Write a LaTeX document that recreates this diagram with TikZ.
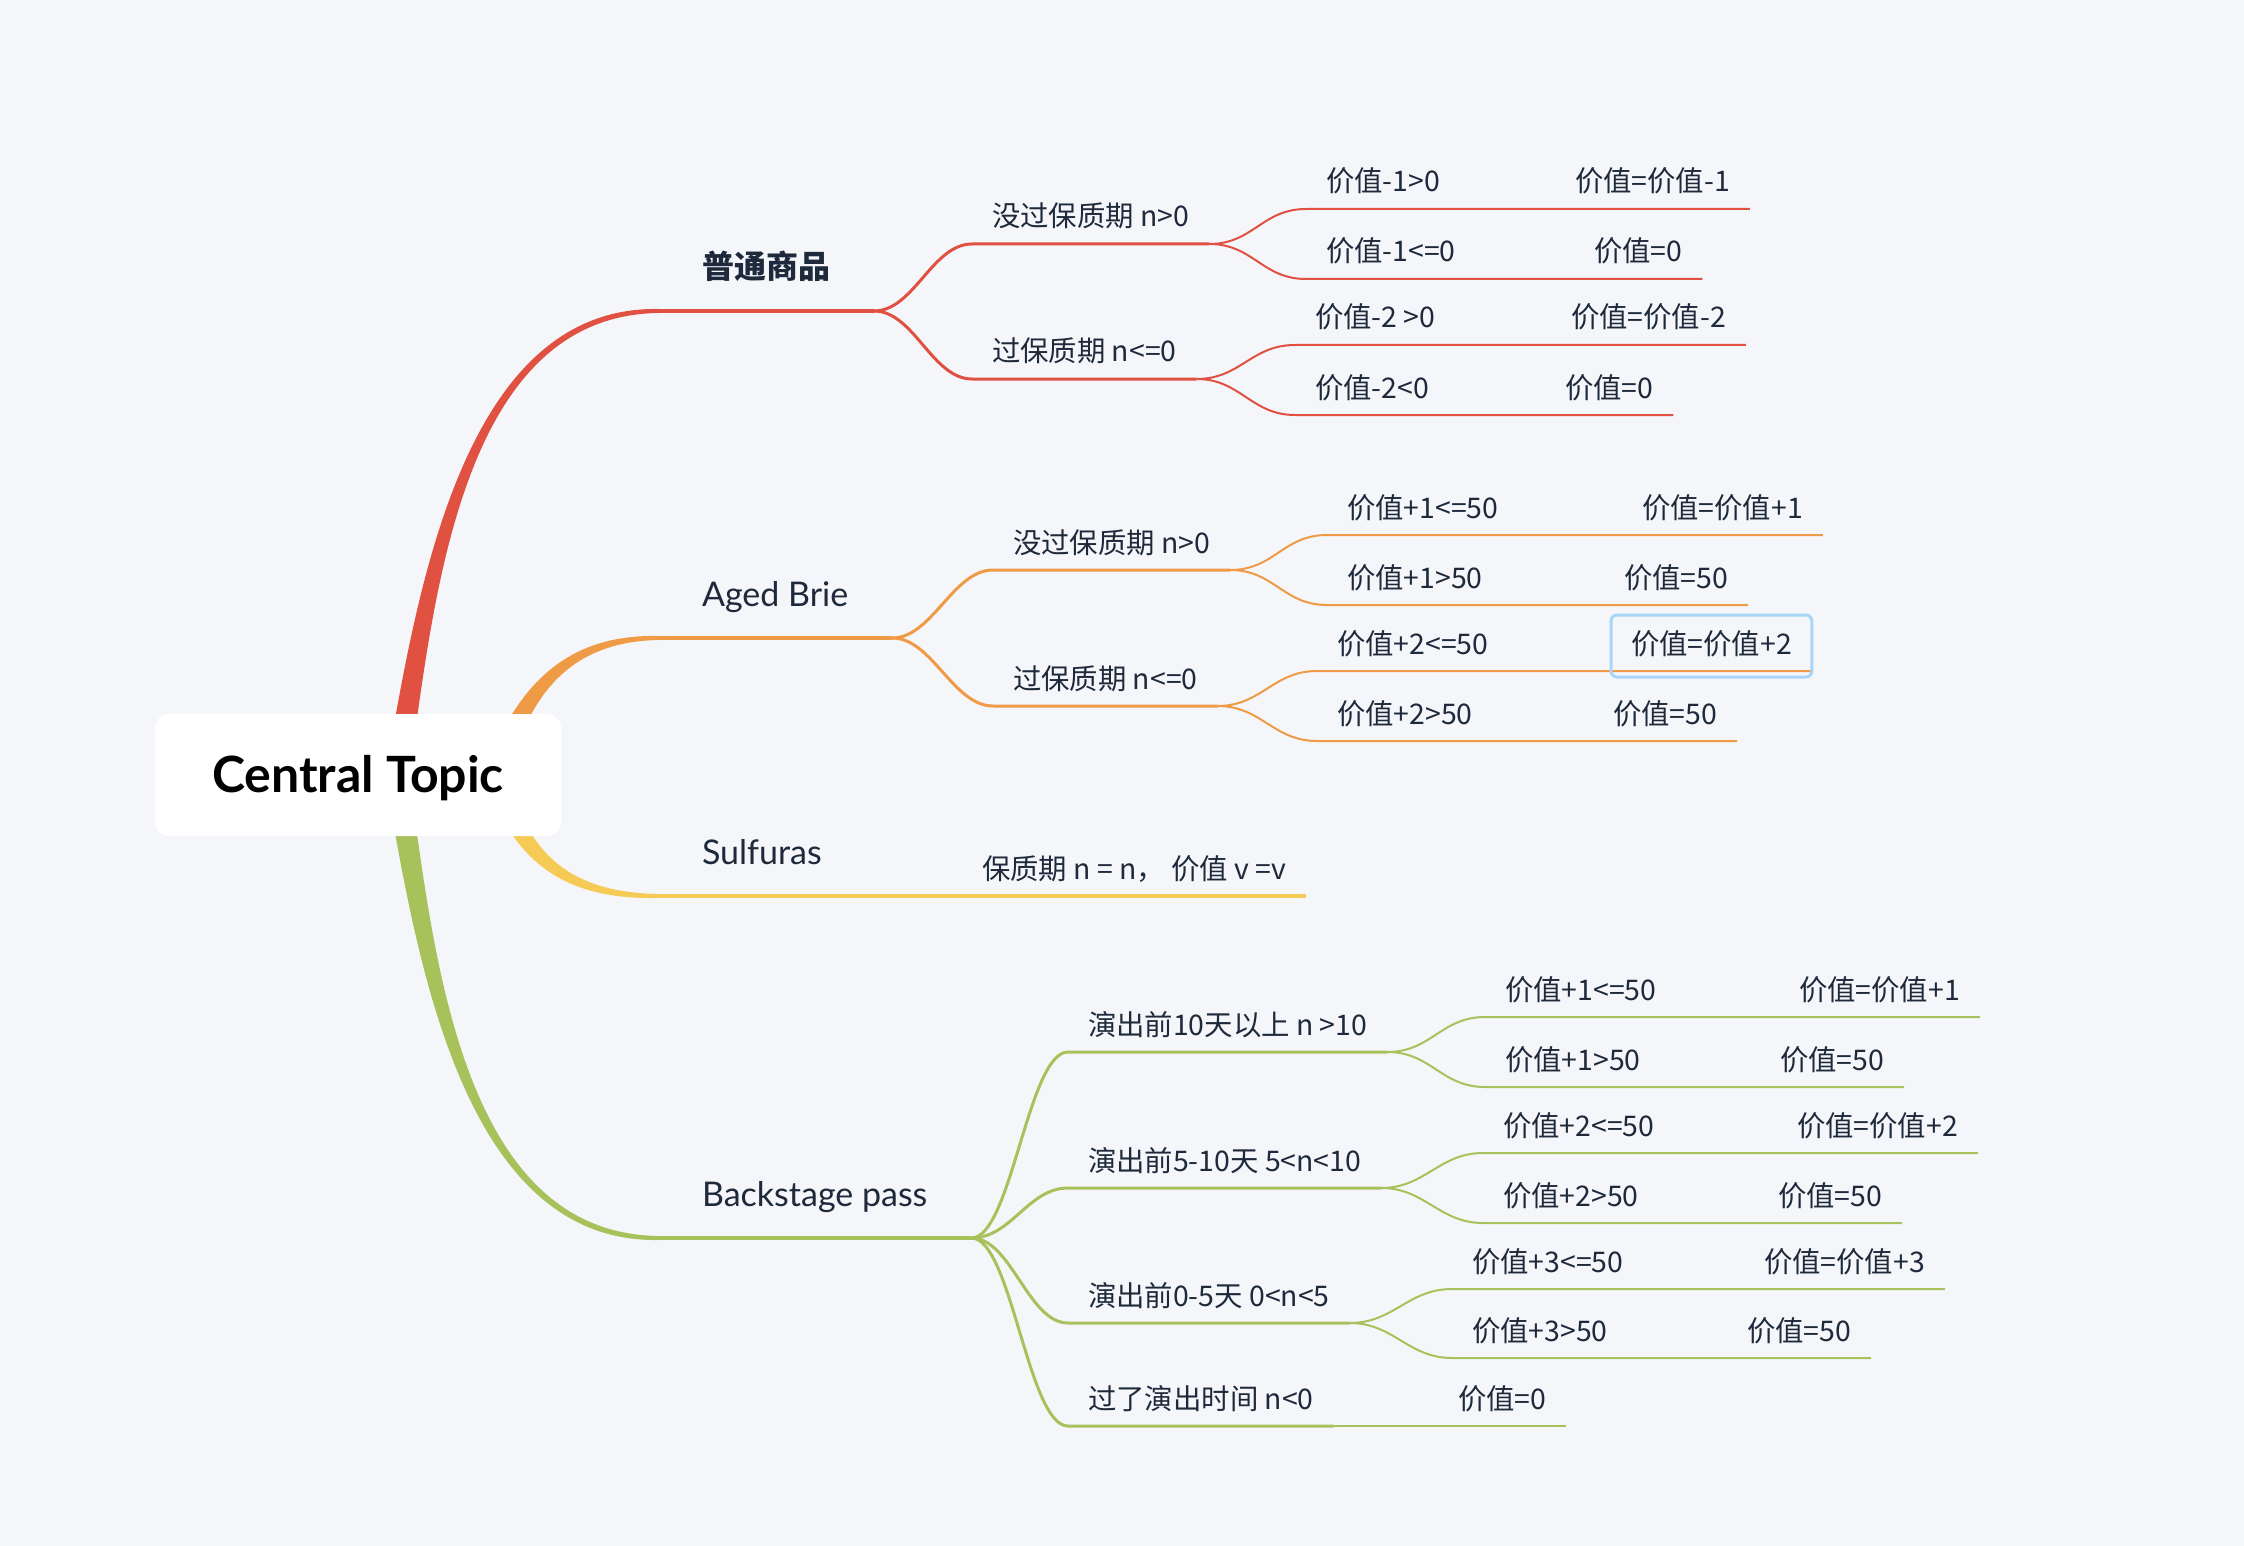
\documentclass[tikz,border=0pt]{standalone}
\usepackage{fontspec}
\setmainfont{Noto Sans CJK SC}
\newfontfamily\latofont{Lato}
\usepackage{xcolor}
\definecolor{bgcol}{HTML}{F5F6FA}
\definecolor{inkcol}{HTML}{1E2A3B}
\definecolor{redbr}{HTML}{E05141}
\definecolor{orangebr}{HTML}{EF9A45}
\definecolor{yellowbr}{HTML}{F6CB55}
\definecolor{greenbr}{HTML}{A7C25A}
\definecolor{selcol}{HTML}{A8D5F8}
\tikzset{
	central/.style={fill=white, rounded corners=7pt, minimum width=203pt, minimum height=61pt,
		text height=17.5pt, text depth=0pt, font=\latofont\bfseries\fontsize{25pt}{28pt}\selectfont, text=black},
	main topic/.style={anchor=south west, inner xsep=22pt, inner ysep=0pt, outer sep=0pt,
		text height=12pt, text depth=16pt, font=\latofont\fontsize{17pt}{19pt}\selectfont, text=inkcol},
	sub topic/.style={anchor=south west, inner xsep=10pt, inner ysep=0pt, outer sep=0pt,
		text height=12pt, text depth=8.5pt, font=\fontsize{14.2pt}{16pt}\selectfont, text=inkcol},
	main line/.style={line width=2pt},
	sub line/.style={line width=1.5pt},
	leaf line/.style={line width=1pt},
	selbox/.style={draw=selcol, line width=1.5pt, rounded corners=3pt}
}
\begin{document}
\begin{tikzpicture}[x=0.5pt, y=-0.5pt]
	\fill[bgcol] (0,0) rectangle (2244,1546);
	
	% main topics
	\node[main topic] (pu) at (658, 311) {\rmfamily\bfseries\fontsize{16pt}{18pt}\selectfont 普通商品};
	\node[main topic] (ab) at (658, 638) {Aged Brie};
	\node[main topic] (su) at (658, 896) {Sulfuras};
	\node[main topic] (bp) at (658, 1238) {Backstage pass};
	
	% 普通商品
	\node[sub topic] (pu1) at (972, 244) {没过保质期 n>0};
	\node[sub topic] (pu2) at (972, 379) {过保质期 n<=0};
	\node[sub topic] (pu1a) at (1306, 209) {价值-1>0};
	\node[sub topic] (pu1b) at (1555, 209) {价值=价值-1};
	\node[sub topic] (pu1c) at (1306, 279) {价值-1<=0};
	\node[sub topic] (pu1d) at (1574, 279) {价值=0};
	\node[sub topic] (pu2a) at (1295, 345) {价值-2 >0};
	\node[sub topic] (pu2b) at (1551, 345) {价值=价值-2};
	\node[sub topic] (pu2c) at (1295, 415) {价值-2<0};
	\node[sub topic] (pu2d) at (1545, 415) {价值=0};
	
	% Aged Brie
	\node[sub topic] (ab1) at (993, 570) {没过保质期 n>0};
	\node[sub topic] (ab2) at (993, 706) {过保质期 n<=0};
	\node[sub topic] (ab1a) at (1327, 535) {价值+1<=50};
	\node[sub topic] (ab1b) at (1622, 535) {价值=价值+1};
	\node[sub topic] (ab1c) at (1327, 605) {价值+1>50};
	\node[sub topic] (ab1d) at (1604, 605) {价值=50};
	\node[sub topic] (ab2a) at (1317, 671) {价值+2<=50};
	\node[sub topic] (ab2b) at (1611, 671) {价值=价值+2};
	\node[sub topic] (ab2c) at (1317, 741) {价值+2>50};
	\node[sub topic] (ab2d) at (1593, 741) {价值=50};
	
	% Sulfuras
	\node[sub topic] (su1) at (962, 896) {保质期 n = n， 价值 v =v};
	
	% Backstage pass
	\node[sub topic] (bp1) at (1068, 1052) {演出前10天以上 n >10};
	\node[sub topic] (bp2) at (1068, 1188) {演出前5-10天 5<n<10};
	\node[sub topic] (bp3) at (1068, 1323) {演出前0-5天 0<n<5};
	\node[sub topic] (bp4) at (1068, 1426) {过了演出时间 n<0};
	\node[sub topic] (bp1a) at (1485, 1017) {价值+1<=50};
	\node[sub topic] (bp1b) at (1779, 1017) {价值=价值+1};
	\node[sub topic] (bp1c) at (1485, 1087) {价值+1>50};
	\node[sub topic] (bp1d) at (1760, 1087) {价值=50};
	\node[sub topic] (bp2a) at (1483, 1153) {价值+2<=50};
	\node[sub topic] (bp2b) at (1777, 1153) {价值=价值+2};
	\node[sub topic] (bp2c) at (1483, 1223) {价值+2>50};
	\node[sub topic] (bp2d) at (1758, 1223) {价值=50};
	\node[sub topic] (bp3a) at (1452, 1289) {价值+3<=50};
	\node[sub topic] (bp3b) at (1744, 1289) {价值=价值+3};
	\node[sub topic] (bp3c) at (1452, 1358) {价值+3>50};
	\node[sub topic] (bp3d) at (1727, 1358) {价值=50};
	\node[sub topic] (bp4a) at (1438, 1426) {价值=0};
	
	% branch roots under the central topic
	\coordinate (rs1) at (385, 776);
	\coordinate (rs2) at (409, 776);
	\coordinate (os1) at (483, 776);
	\coordinate (os2) at (507, 776);
	
	% main branches
	\fill[redbr] (rs1) .. controls (416, 600) and (460, 306) .. ([yshift=1pt]pu.south west)
		-- ([yshift=-1pt]pu.south west) .. controls (460, 316) and (434, 600) .. (rs2) -- cycle;
	\fill[orangebr] (os1) .. controls (513, 693) and (560, 634) .. ([yshift=1pt]ab.south west)
		-- ([yshift=-1pt]ab.south west) .. controls (560, 642) and (527, 707) .. (os2) -- cycle;
	\fill[yellowbr] (os1) .. controls (513, 859) and (560, 900) .. ([yshift=-1pt]su.south west)
		-- ([yshift=1pt]su.south west) .. controls (560, 892) and (527, 845) .. (os2) -- cycle;
	\fill[greenbr] (rs1) .. controls (416, 952) and (460, 1243) .. ([yshift=-1pt]bp.south west)
		-- ([yshift=1pt]bp.south west) .. controls (460, 1233) and (434, 952) .. (rs2) -- cycle;
	\draw[main line, redbr] (pu.south west) -- (pu.south east);
	\draw[main line, orangebr] (ab.south west) -- (ab.south east);
	\draw[main line, yellowbr] (su.south west) -- (su.south east);
	\draw[main line, greenbr] (bp.south west) -- (bp.south east);
	
	% 普通商品 connectors
	\draw[sub line, redbr] (pu.south east) .. controls +(20pt,0) and +(-20pt,0) .. (pu1.south west) -- (pu1.south east);
	\draw[sub line, redbr] (pu.south east) .. controls +(20pt,0) and +(-20pt,0) .. (pu2.south west) -- (pu2.south east);
	\draw[leaf line, redbr] (pu1.south east) .. controls +(22pt,0) and +(-22pt,0) .. (pu1a.south west) -- (pu1a.south east) -- (pu1b.south west) -- (pu1b.south east);
	\draw[leaf line, redbr] (pu1.south east) .. controls +(22pt,0) and +(-22pt,0) .. (pu1c.south west) -- (pu1c.south east) -- (pu1d.south west) -- (pu1d.south east);
	\draw[leaf line, redbr] (pu2.south east) .. controls +(22pt,0) and +(-22pt,0) .. (pu2a.south west) -- (pu2a.south east) -- (pu2b.south west) -- (pu2b.south east);
	\draw[leaf line, redbr] (pu2.south east) .. controls +(22pt,0) and +(-22pt,0) .. (pu2c.south west) -- (pu2c.south east) -- (pu2d.south west) -- (pu2d.south east);
	
	% Aged Brie connectors
	\draw[sub line, orangebr] (ab.south east) .. controls +(20pt,0) and +(-20pt,0) .. (ab1.south west) -- (ab1.south east);
	\draw[sub line, orangebr] (ab.south east) .. controls +(20pt,0) and +(-20pt,0) .. (ab2.south west) -- (ab2.south east);
	\draw[leaf line, orangebr] (ab1.south east) .. controls +(22pt,0) and +(-22pt,0) .. (ab1a.south west) -- (ab1a.south east) -- (ab1b.south west) -- (ab1b.south east);
	\draw[leaf line, orangebr] (ab1.south east) .. controls +(22pt,0) and +(-22pt,0) .. (ab1c.south west) -- (ab1c.south east) -- (ab1d.south west) -- (ab1d.south east);
	\draw[leaf line, orangebr] (ab2.south east) .. controls +(22pt,0) and +(-22pt,0) .. (ab2a.south west) -- (ab2a.south east) -- (ab2b.south west) -- (ab2b.south east);
	\draw[leaf line, orangebr] (ab2.south east) .. controls +(22pt,0) and +(-22pt,0) .. (ab2c.south west) -- (ab2c.south east) -- (ab2d.south west) -- (ab2d.south east);
	\draw[selbox] ([yshift=-3pt]ab2b.south west) rectangle ([yshift=7.5pt]ab2b.north east);
	
	% Sulfuras connector
	\draw[main line, yellowbr] (su.south east) -- (su1.south west) -- (su1.south east);
	
	% Backstage pass connectors
	\foreach \k in {bp1, bp2, bp3, bp4}
		\draw[sub line, greenbr] (bp.south east) .. controls +(20pt,0) and +(-20pt,0) .. (\k.south west) -- (\k.south east);
	\draw[leaf line, greenbr] (bp1.south east) .. controls +(22pt,0) and +(-22pt,0) .. (bp1a.south west) -- (bp1a.south east) -- (bp1b.south west) -- (bp1b.south east);
	\draw[leaf line, greenbr] (bp1.south east) .. controls +(22pt,0) and +(-22pt,0) .. (bp1c.south west) -- (bp1c.south east) -- (bp1d.south west) -- (bp1d.south east);
	\draw[leaf line, greenbr] (bp2.south east) .. controls +(22pt,0) and +(-22pt,0) .. (bp2a.south west) -- (bp2a.south east) -- (bp2b.south west) -- (bp2b.south east);
	\draw[leaf line, greenbr] (bp2.south east) .. controls +(22pt,0) and +(-22pt,0) .. (bp2c.south west) -- (bp2c.south east) -- (bp2d.south west) -- (bp2d.south east);
	\draw[leaf line, greenbr] (bp3.south east) .. controls +(22pt,0) and +(-22pt,0) .. (bp3a.south west) -- (bp3a.south east) -- (bp3b.south west) -- (bp3b.south east);
	\draw[leaf line, greenbr] (bp3.south east) .. controls +(22pt,0) and +(-22pt,0) .. (bp3c.south west) -- (bp3c.south east) -- (bp3d.south west) -- (bp3d.south east);
	\draw[leaf line, greenbr] (bp4.south east) -- (bp4a.south west) -- (bp4a.south east);
	
	% central topic on top
	\node[central] (ct) at (358, 775) {Central Topic};
\end{tikzpicture}
\end{document}
